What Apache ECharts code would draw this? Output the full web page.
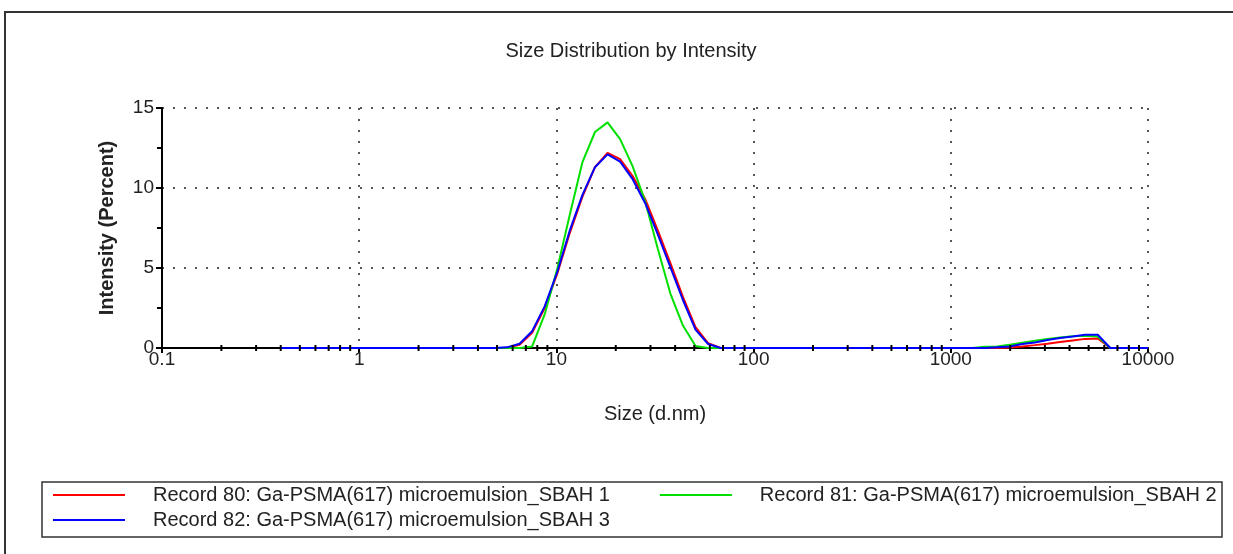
<!DOCTYPE html>
<html>
<head>
<meta charset="utf-8">
<script src="https://cdn.jsdelivr.net/npm/echarts@6/dist/echarts.min.js"></script>
<style>
html, body { margin: 0; padding: 0; background: #fff; }
#main { width: 1233px; height: 554px; }
</style>
</head>
<body>
<div id="main"></div>
<script>
// size bins (d.nm)
var sizes = [0.4, 0.4632, 0.5365, 0.6213, 0.7195, 0.8332, 0.9649, 1.117, 1.294, 1.499,
  1.736, 2.01, 2.328, 2.696, 3.122, 3.615, 4.187, 4.849, 5.615, 6.503,
  7.531, 8.721, 10.1, 11.7, 13.54, 15.69, 18.17, 21.04, 24.36, 28.21,
  32.67, 37.84, 43.82, 50.75, 58.77, 68.06, 78.82, 91.28, 105.7, 122.4,
  141.8, 164.2, 190.1, 220.2, 255, 295.3, 342, 396.1, 458.7, 531.2,
  615.1, 712.4, 825, 955.4, 1106, 1281, 1484, 1718, 1990, 2305,
  2669, 3091, 3580, 4145, 4801, 5560, 6439, 7456, 8635, 10000];

// intensity (%)
var rec80 = [0, 0, 0, 0, 0, 0, 0, 0, 0, 0,
  0, 0, 0, 0, 0, 0, 0, 0, 0.02, 0.2,
  0.95, 2.5, 4.65, 7.2, 9.45, 11.3, 12.2, 11.8, 10.75, 9.3,
  7.35, 5.3, 3.2, 1.3, 0.3, 0, 0, 0, 0, 0,
  0, 0, 0, 0, 0, 0, 0, 0, 0, 0,
  0, 0, 0, 0, 0, 0, 0, 0, 0.03, 0.1,
  0.18, 0.27, 0.37, 0.47, 0.57, 0.6, 0, 0, 0, 0];

var rec81 = [0, 0, 0, 0, 0, 0, 0, 0, 0, 0,
  0, 0, 0, 0, 0, 0, 0, 0, 0, 0,
  0.1, 2.1, 4.95, 8.35, 11.6, 13.5, 14.1, 13.05, 11.35, 9.15,
  6.2, 3.4, 1.4, 0.12, 0, 0, 0, 0, 0, 0,
  0, 0, 0, 0, 0, 0, 0, 0, 0, 0,
  0, 0, 0, 0, 0, 0, 0.08, 0.1, 0.2, 0.33,
  0.45, 0.57, 0.66, 0.73, 0.76, 0.72, 0, 0, 0, 0];

var rec82 = [0, 0, 0, 0, 0, 0, 0, 0, 0, 0,
  0, 0, 0, 0, 0, 0, 0, 0, 0.04, 0.27,
  1.05, 2.6, 4.75, 7.35, 9.55, 11.3, 12.1, 11.65, 10.55, 9.05,
  7.1, 5.05, 3.0, 1.15, 0.25, 0, 0, 0, 0, 0,
  0, 0, 0, 0, 0, 0, 0, 0, 0, 0,
  0, 0, 0, 0, 0, 0, 0, 0.05, 0.1, 0.25,
  0.35, 0.5, 0.62, 0.72, 0.83, 0.83, 0, 0, 0, 0];

var names = ['Record 80: Ga-PSMA(617) microemulsion_SBAH 1',
  'Record 81: Ga-PSMA(617) microemulsion_SBAH 2',
  'Record 82: Ga-PSMA(617) microemulsion_SBAH 3'];
var colors = ['#ff0000', '#00e000', '#0000ff'];

// log minor ticks 2..9 of every decade
var minorTicks = [];
[0.1, 1, 10, 100, 1000].forEach(function (d) {
  for (var k = 2; k <= 9; k++) minorTicks.push([d * k, 0]);
});

function pairs(vals) {
  return sizes.map(function (s, i) { return [s, vals[i]]; });
}

var font = 'Liberation Sans, Arial, sans-serif';
var dotted = { color: '#555', width: 2, type: [2, 9] };

var chart = echarts.init(document.getElementById('main'));

function lineSeries(i, vals) {
  return {
    name: names[i],
    type: 'line',
    data: pairs(vals),
    showSymbol: false,
    symbol: 'none',
    clip: false,
    color: colors[i],
    lineStyle: { width: 2, color: colors[i] },
    z: 10
  };
}

var legendBase = {
  left: 48,
  itemGap: 50,
  icon: 'rect',
  itemWidth: 72,
  itemHeight: 2,
  textStyle: { fontFamily: font, fontSize: 20, color: '#222', padding: [0, 0, 0, 23] }
};

chart.setOption({
  animation: false,
  backgroundColor: '#fff',
  title: {
    text: 'Size Distribution by Intensity',
    left: 626,
    top: 36,
    textAlign: 'center',
    textStyle: { fontFamily: font, fontSize: 20, fontWeight: 'normal', color: '#222' }
  },
  legend: [
    Object.assign({}, legendBase, { top: 480, data: [names[0], names[1]] }),
    Object.assign({}, legendBase, { top: 505, data: [names[2]] })
  ],
  grid: { left: 162, right: 85, top: 108, bottom: 206 },
  xAxis: {
    type: 'log',
    logBase: 10,
    min: 0.1,
    max: 10000,
    z: 0,
    name: 'Size (d.nm)',
    nameLocation: 'middle',
    nameGap: 56,
    nameTextStyle: { fontFamily: font, fontSize: 20, color: '#222' },
    axisLine: { lineStyle: { color: '#000', width: 2 } },
    axisTick: { length: 5, lineStyle: { color: '#000', width: 2 } },
    axisLabel: {
      fontFamily: font, fontSize: 19, color: '#222', margin: 2,
      formatter: function (v) { return String(+v.toPrecision(6)); }
    },
    splitLine: { show: true, lineStyle: dotted }
  },
  yAxis: {
    type: 'value',
    min: 0,
    max: 15,
    interval: 5,
    z: 0,
    name: 'Intensity (Percent)',
    nameLocation: 'middle',
    nameGap: 45,
    nameTextStyle: { fontFamily: font, fontSize: 20, fontWeight: 'bold', color: '#222' },
    axisLine: { show: true, lineStyle: { color: '#000', width: 2 } },
    axisTick: { show: true, length: 6, lineStyle: { color: '#000', width: 2 } },
    minorTick: { show: true, splitNumber: 2, length: 5, lineStyle: { color: '#000', width: 2 } },
    axisLabel: { fontFamily: font, fontSize: 19, color: '#222', margin: 8 },
    splitLine: { show: true, lineStyle: dotted }
  },
  graphic: [
    { type: 'rect', shape: { x: 5, y: 12, width: 1260, height: 600 },
      style: { fill: 'none', stroke: '#333', lineWidth: 2 }, silent: true },
    { type: 'rect', shape: { x: 42, y: 482, width: 1180, height: 55 },
      style: { fill: 'none', stroke: '#333', lineWidth: 1.5 }, silent: true }
  ],
  series: [
    lineSeries(0, rec80),
    lineSeries(1, rec81),
    lineSeries(2, rec82),
    {
      type: 'custom',
      name: 'minorTicks',
      silent: true,
      clip: false,
      z: 20,
      data: minorTicks,
      renderItem: function (params, api) {
        var p = api.coord([api.value(0), 0]);
        return {
          type: 'line',
          shape: { x1: p[0], y1: p[1] - 3, x2: p[0], y2: p[1] + 3 },
          style: { stroke: '#000', lineWidth: 2 }
        };
      }
    }
  ]
});
</script>
</body>
</html>
